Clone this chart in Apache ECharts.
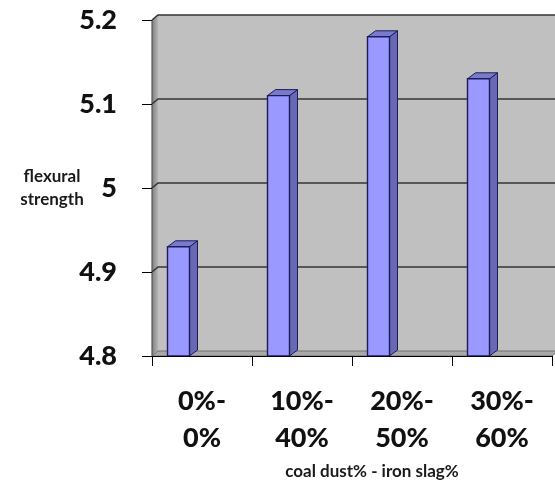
<!DOCTYPE html>
<html>
<head>
<meta charset="utf-8">
<script src="https://cdn.jsdelivr.net/npm/echarts@6/dist/echarts.min.js"></script>
<style>
  html, body { margin: 0; padding: 0; background: #fff; }
  #chart { width: 555px; height: 481px; }
</style>
</head>
<body>
<div id="chart"></div>
<script>
// Flexural strength for each coal dust / iron slag mix
const categories = ['0%-\n0%', '10%-\n40%', '20%-\n50%', '30%-\n60%'];
const strength = [4.93, 5.11, 5.18, 5.13];
const yMin = 4.8, yMax = 5.2, yStep = 0.1;
const gridValues = [4.8, 4.9, 5.0, 5.1, 5.2];

const FONT = 'Lato, "Open Sans", sans-serif';
const DEPTH_X = 6, DEPTH_Y = -5;      // back-wall offset for the 3D look
const BAR_DX = 8, BAR_DY = -6;        // bar side/top depth

const chart = echarts.init(document.getElementById('chart'), null, { renderer: 'canvas' });

// Walls, floor and back-wall gridlines, drawn from the axis scales
function renderWalls(params, api) {
  const bw = api.size([1, 0])[0];
  const left = api.coord([0, yMin])[0] - bw / 2;
  const right = api.coord([categories.length - 1, yMin])[0] + bw / 2;
  const yBot = api.coord([0, yMin])[1];
  const yTop = api.coord([0, yMax])[1];
  const children = [];
  // back wall
  children.push({
    type: 'rect',
    shape: { x: left + DEPTH_X, y: yTop + DEPTH_Y, width: right - left + 10, height: yBot - yTop },
    style: { fill: '#c0c0c0' }
  });
  // left side wall, shaded from the front edge inwards
  children.push({
    type: 'polygon',
    shape: { points: [[left, yTop], [left + DEPTH_X, yTop + DEPTH_Y], [left + DEPTH_X, yBot + DEPTH_Y], [left, yBot]] },
    style: {
      fill: new echarts.graphic.LinearGradient(0, 0, 1, 0, [
        { offset: 0, color: '#7f7f7f' },
        { offset: 1, color: '#b4b4b4' }
      ])
    }
  });
  children.push({
    type: 'line',
    shape: { x1: left, y1: yTop, x2: left, y2: yBot },
    style: { stroke: '#555', lineWidth: 1.2 }
  });
  // floor
  children.push({
    type: 'polygon',
    shape: { points: [[left, yBot], [left + DEPTH_X, yBot + DEPTH_Y], [right + DEPTH_X, yBot + DEPTH_Y], [right, yBot]] },
    style: { fill: '#a9a9a9', stroke: '#6e6e6e', lineWidth: 1 }
  });
  // gridlines on side and back walls
  gridValues.forEach(function (v) {
    if (v === yMin) return;
    const y = api.coord([0, v])[1];
    children.push({
      type: 'polyline',
      shape: { points: [[left, y], [left + DEPTH_X, y + DEPTH_Y], [right + 20, y + DEPTH_Y]] },
      style: { stroke: '#353535', lineWidth: 1.6, fill: null }
    });
  });
  return { type: 'group', children: children };
}

// Columns with front, side and top faces
function renderBar(params, api) {
  const idx = api.value(0);
  const val = api.value(1);
  const bw = api.size([1, 0])[0];
  const top = api.coord([idx, val]);
  const base = api.coord([idx, yMin]);
  const x0 = top[0] - 0.345 * bw;
  const x1 = top[0] - 0.125 * bw;
  const yt = top[1], yb = base[1];
  const stroke = '#1c1c5a';
  return {
    type: 'group',
    children: [
      {
        type: 'polygon',
        shape: { points: [[x1, yt], [x1 + BAR_DX, yt + BAR_DY], [x1 + BAR_DX, yb + BAR_DY], [x1, yb]] },
        style: { fill: '#6868b4', stroke: stroke, lineWidth: 1 }
      },
      {
        type: 'polygon',
        shape: { points: [[x0, yt], [x0 + BAR_DX, yt + BAR_DY], [x1 + BAR_DX, yt + BAR_DY], [x1, yt]] },
        style: { fill: '#7a7acc', stroke: stroke, lineWidth: 1 }
      },
      {
        type: 'rect',
        shape: { x: x0, y: yt, width: x1 - x0, height: yb - yt },
        style: { fill: '#9999ff', stroke: stroke, lineWidth: 1.4 }
      }
    ]
  };
}

const option = {
  animation: false,
  grid: { left: 152, right: 3, top: 20, bottom: 125, containLabel: false, outerBoundsMode: 'none' },
  xAxis: {
    type: 'category',
    data: categories,
    boundaryGap: true,
    name: 'coal dust% - iron slag%',
    nameLocation: 'middle',
    nameGap: 107,
    nameMoveOverlap: false,
    nameTextStyle: { fontFamily: FONT, fontWeight: 'bold', fontSize: 17, color: '#1a1a1a', padding: [0, 0, 0, 40] },
    axisLine: { show: true, lineStyle: { color: '#000', width: 1 } },
    axisTick: { show: true, alignWithLabel: false, length: 10, lineStyle: { color: '#000' } },
    axisLabel: {
      interval: 0, margin: 27,
      fontFamily: FONT, fontWeight: 900, fontSize: 27, lineHeight: 37, color: '#111'
    },
    splitLine: { show: false },
    z: 5
  },
  yAxis: {
    type: 'value',
    min: yMin, max: yMax, interval: yStep,
    name: 'flexural\nstrength',
    nameLocation: 'middle',
    nameRotate: 0,
    nameGap: 100,
    nameMoveOverlap: false,
    nameTextStyle: {
      fontFamily: FONT, fontWeight: 'bold', fontSize: 17, lineHeight: 23, color: '#1a1a1a',
      align: 'center'
    },
    axisLine: { show: false },
    axisTick: { show: true, length: 10, lineStyle: { color: '#000' } },
    axisLabel: { margin: 35, fontFamily: FONT, fontWeight: 900, fontSize: 27, color: '#111' },
    splitLine: { show: false }
  },
  series: [
    {
      type: 'custom',
      name: 'walls',
      renderItem: renderWalls,
      data: [[0, yMin]],
      encode: { x: 0, y: 1 },
      silent: true,
      z: 0
    },
    {
      type: 'custom',
      name: 'flexural strength',
      renderItem: renderBar,
      data: strength.map(function (v, i) { return [i, v]; }),
      encode: { x: 0, y: 1 },
      z: 3
    }
  ]
};

chart.setOption(option);
</script>
</body>
</html>
